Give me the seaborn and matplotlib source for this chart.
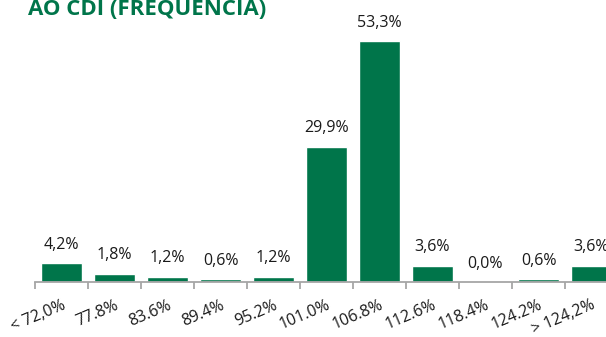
import matplotlib
matplotlib.use("Agg")
import matplotlib.pyplot as plt
import seaborn as sns
import pandas as pd
import numpy as np

# Frequency distribution of returns relative to the CDI
categories = ["< 72,0%", "77.8%", "83.6%", "89.4%", "95.2%", "101.0%",
              "106.8%", "112.6%", "118.4%", "124.2%", "> 124,2%"]
frequency = [4.2, 1.8, 1.2, 0.6, 1.2, 29.9, 53.3, 3.6, 0.0, 0.6, 3.6]
title = "AO CDI (FREQUENCIA)"

green = "#00754A"
sns.set_theme(style="white")
plt.rcParams["font.family"] = ["Open Sans", "DejaVu Sans"]

W, H = 606, 337
fig = plt.figure(figsize=(W / 100, H / 100), dpi=100)
# axes run past the right edge so the last bar is cut by the frame
left, right, base_y = 35, 618, 282
ax = fig.add_axes([left / W, (H - base_y) / H, (right - left) / W, base_y / H])

df = pd.DataFrame({"faixa": categories, "freq": frequency})
sns.barplot(data=df, x="faixa", y="freq", color=green, saturation=1,
            width=0.76, ax=ax)

ax.set_xlim(-0.5, len(categories) - 0.5)
ax.set_ylim(0, 62.4)

for p, v in zip(ax.patches, frequency):
    ax.annotate(f"{v:.1f}%".replace(".", ","),
                (p.get_x() + p.get_width() / 2, p.get_height()),
                xytext=(0, 7.5), textcoords="offset points",
                ha="center", va="bottom", fontsize=11.5, color="#1a1a1a")

for s in ["top", "right", "left"]:
    ax.spines[s].set_visible(False)
ax.spines["bottom"].set_color("#A6A6A6")
ax.spines["bottom"].set_linewidth(1.3)

ax.set_yticks([])
ax.set_xlabel("")
ax.set_ylabel("")
ax.set_xticks(np.arange(len(categories)))
ax.set_xticklabels(categories, rotation=23, ha="right",
                   rotation_mode="anchor", fontsize=11.5, color="#1a1a1a")
ax.tick_params(axis="x", which="major", length=0, pad=11)
ax.set_xticks(np.arange(len(categories) + 1) - 0.5, minor=True)
ax.tick_params(axis="x", which="minor", length=5, width=1.3,
               color="#A6A6A6", direction="out", bottom=True)

fig.text(28 / W, 1.0 + 1 / H, title, ha="left", va="top",
         fontsize=16, fontweight="bold", color=green,
         family=["Open Sans", "DejaVu Sans"])

fig.savefig("out.png", dpi=100)
